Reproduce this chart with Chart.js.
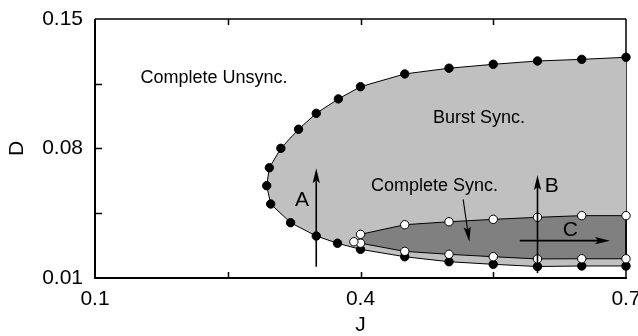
<!DOCTYPE html>
<html>
<head>
<meta charset="utf-8">
<script src="https://cdn.jsdelivr.net/npm/chart.js@4"></script>
<style>
  html, body { margin: 0; padding: 0; background: #fff; }
  #wrap { width: 638px; height: 336px; }
</style>
</head>
<body>
<div id="wrap"><canvas id="c" width="638" height="336"></canvas></div>
<script>
// Boundary of the burst-synchronization region (filled black circles)
const jBurst = [0.70, 0.65, 0.60, 0.55, 0.50, 0.45, 0.40, 0.375, 0.35, 0.33, 0.31, 0.297, 0.294, 0.2985, 0.321, 0.35, 0.374, 0.40, 0.45, 0.50, 0.55, 0.60, 0.65, 0.70];
const dBurst = [0.1293, 0.1282, 0.1273, 0.1255, 0.1234, 0.1203, 0.1134, 0.1068, 0.0990, 0.0904, 0.0801, 0.0696, 0.0599, 0.0500, 0.0399, 0.0327, 0.0288, 0.0255, 0.0215, 0.0188, 0.0174, 0.0162, 0.0165, 0.0165];

// Boundary of the complete-synchronization region (open circles)
const jSyncUpper = [0.40, 0.45, 0.50, 0.55, 0.60, 0.65, 0.70];
const dSyncUpper = [0.0336, 0.0388, 0.0404, 0.0417, 0.0428, 0.0437, 0.0437];
const jSyncLower = [0.70, 0.65, 0.60, 0.55, 0.50, 0.45, 0.40];
const dSyncLower = [0.0204, 0.0204, 0.0203, 0.0215, 0.0228, 0.0244, 0.0288];
const jSyncOnset = [0.3925];
const dSyncOnset = [0.0296];

// Axis ticks
const jTicks = [0.1, 0.25, 0.4, 0.55, 0.7];
const jTickLabels = ['0.1', '', '0.4', '', '0.7'];
const dTicks = [0.01, 0.045, 0.08, 0.115, 0.15];
const dTickLabels = ['0.01', '', '0.08', '', '0.15'];

const toPoints = (xs, ys) => xs.map((x, i) => ({ x, y: ys[i] }));
const FONT = "'Liberation Sans', Arial, Helvetica, sans-serif";

// Frame with inward tick marks
const framePlugin = {
  id: 'frame',
  beforeDatasetsDraw(chart) {
    const { ctx, chartArea: a, scales: { x, y } } = chart;
    ctx.save();
    ctx.strokeStyle = '#000';
    ctx.lineWidth = 1.5;
    ctx.beginPath();
    ctx.moveTo(a.left, a.top); ctx.lineTo(a.right, a.top);
    ctx.moveTo(a.right, a.top); ctx.lineTo(a.right, a.bottom);
    ctx.stroke();
    ctx.lineWidth = 2;
    ctx.beginPath();
    ctx.moveTo(a.left, a.top); ctx.lineTo(a.left, a.bottom); ctx.lineTo(a.right + 1, a.bottom);
    ctx.stroke();
    ctx.lineWidth = 1.5;
    ctx.beginPath();
    jTicks.slice(1, -1).forEach(v => {
      const px = Math.round(x.getPixelForValue(v)) + 0.5;
      ctx.moveTo(px, a.bottom); ctx.lineTo(px, a.bottom - 6);
      ctx.moveTo(px, a.top); ctx.lineTo(px, a.top + 6);
    });
    dTicks.slice(1, -1).forEach(v => {
      const py = Math.round(y.getPixelForValue(v)) + 0.5;
      ctx.moveTo(a.left, py); ctx.lineTo(a.left + 7, py);
    });
    ctx.stroke();
    ctx.restore();
  }
};

function arrow(ctx, x1, y1, x2, y2) {
  const ang = Math.atan2(y2 - y1, x2 - x1);
  const len = 15, hw = 3.6, notch = 3;
  ctx.beginPath();
  ctx.moveTo(x1, y1);
  ctx.lineTo(x2 - Math.cos(ang) * (len - notch), y2 - Math.sin(ang) * (len - notch));
  ctx.stroke();
  ctx.save();
  ctx.translate(x2, y2);
  ctx.rotate(ang);
  ctx.beginPath();
  ctx.moveTo(0, 0);
  ctx.lineTo(-len, -hw);
  ctx.lineTo(-len + notch, 0);
  ctx.lineTo(-len, hw);
  ctx.closePath();
  ctx.fill();
  ctx.restore();
}

// Region names, path letters and arrows
const notesPlugin = {
  id: 'notes',
  afterDatasetsDraw(chart) {
    const { ctx, scales: { x, y } } = chart;
    const X = v => x.getPixelForValue(v), Y = v => y.getPixelForValue(v);
    ctx.save();
    ctx.fillStyle = '#000';
    ctx.strokeStyle = '#000';
    ctx.lineWidth = 1.6;
    arrow(ctx, X(0.35), Y(0.0161), X(0.35), Y(0.0693));
    arrow(ctx, X(0.60), Y(0.0127), X(0.60), Y(0.0657));
    arrow(ctx, X(0.580), Y(0.0302), X(0.682), Y(0.0302));
    ctx.lineWidth = 1.1;
    arrow(ctx, X(0.516), Y(0.0525), X(0.523), Y(0.0296));

    ctx.textAlign = 'center';
    ctx.textBaseline = 'middle';
    ctx.font = '18px ' + FONT;
    ctx.fillText('Complete Unsync.', X(0.2345), Y(0.1181));
    ctx.fillText('Burst Sync.', X(0.534), Y(0.0965));
    ctx.fillText('Complete Sync.', X(0.4836), Y(0.0597));
    ctx.font = '21px ' + FONT;
    ctx.fillText('A', X(0.334), Y(0.0522));
    ctx.fillText('B', X(0.616), Y(0.0594));
    ctx.fillText('C', X(0.637), Y(0.0356));
    ctx.restore();
  }
};

const noPad = s => { s.paddingLeft = 0; s.paddingRight = 0; s.paddingTop = 0; s.paddingBottom = 0; };

new Chart(document.getElementById('c'), {
  type: 'line',
  data: {
    datasets: [
      {
        label: 'onset',
        data: toPoints(jSyncOnset, dSyncOnset),
        showLine: false,
        pointRadius: 4.2,
        pointBackgroundColor: '#fff',
        pointBorderColor: '#000',
        pointBorderWidth: 1,
        clip: false
      },
      {
        label: 'complete sync',
        data: toPoints(jSyncUpper.concat(jSyncLower), dSyncUpper.concat(dSyncLower)),
        borderColor: '#000',
        borderWidth: 1,
        backgroundColor: '#808080',
        fill: 'shape',
        tension: 0,
        pointRadius: 4.2,
        pointBackgroundColor: '#fff',
        pointBorderColor: '#000',
        pointBorderWidth: 1,
        clip: false
      },
      {
        label: 'burst sync',
        data: toPoints(jBurst, dBurst),
        borderColor: '#000',
        borderWidth: 1,
        backgroundColor: '#c0c0c0',
        fill: 'shape',
        tension: 0,
        pointRadius: 4.2,
        pointBackgroundColor: '#000',
        pointBorderColor: '#000',
        pointBorderWidth: 1,
        clip: false
      }
    ]
  },
  options: {
    responsive: false,
    animation: false,
    events: [],
    layout: { padding: { top: 19, right: 12, bottom: 0, left: 0 } },
    plugins: { legend: { display: false }, tooltip: { enabled: false } },
    scales: {
      x: {
        type: 'linear',
        min: 0.1, max: 0.7,
        grid: { display: false, drawTicks: false },
        border: { display: false },
        afterBuildTicks: s => { s.ticks = jTicks.map(v => ({ value: v })); },
        afterFit: s => { s.height = 58; noPad(s); },
        ticks: {
          padding: 9,
          maxRotation: 0,
          autoSkip: false,
          color: '#000',
          font: { size: 21, family: FONT },
          callback: (v, i) => jTickLabels[i]
        },
        title: {
          display: true, text: 'J', color: '#000',
          font: { size: 21, family: FONT, lineHeight: 1.2 },
          padding: { top: 0, bottom: -2 }
        }
      },
      y: {
        type: 'linear',
        min: 0.01, max: 0.15,
        grid: { display: false, drawTicks: false },
        border: { display: false },
        afterBuildTicks: s => { s.ticks = dTicks.map(v => ({ value: v })); },
        afterFit: s => { s.width = 95; noPad(s); },
        ticks: {
          padding: 12,
          autoSkip: false,
          color: '#000',
          font: { size: 21, family: FONT },
          callback: (v, i) => dTickLabels[i]
        },
        title: {
          display: true, text: 'D', color: '#000',
          font: { size: 21, family: FONT, lineHeight: 1.2 },
          padding: { top: 5, bottom: 0 }
        }
      }
    }
  },
  plugins: [framePlugin, notesPlugin]
});
</script>
</body>
</html>
